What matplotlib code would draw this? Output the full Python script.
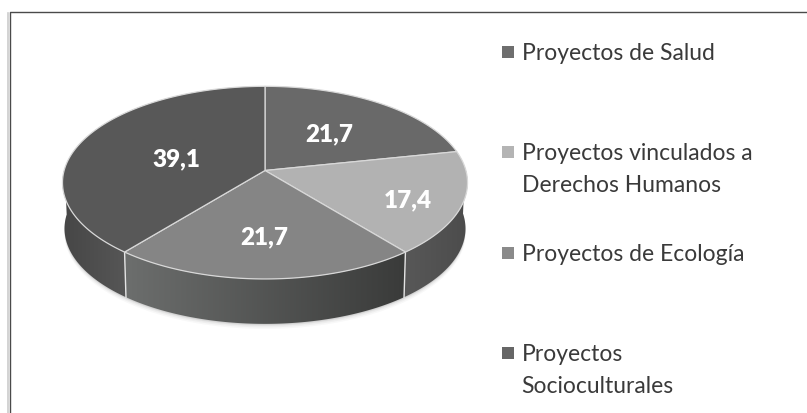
import numpy as np
import matplotlib
matplotlib.use("Agg")
import matplotlib.pyplot as plt
from matplotlib.patches import Polygon

# --- data ---
categories = ["Proyectos de Salud", "Proyectos vinculados a\nDerechos Humanos",
              "Proyectos de Ecología", "Proyectos\nSocioculturales"]
values = [21.7, 17.4, 21.7, 39.1]
value_labels = ["21,7", "17,4", "21,7", "39,1"]

# --- style ---
top_colors = ["#696969", "#b2b2b2", "#858585", "#585858"]
legend_colors = ["#6e6e6e", "#b4b4b4", "#8a8a8a", "#666666"]
side_shades = [("#555555", "#555555"), ("#585858", "#4c4c4c"),
               ("#6c6e6d", "#3a3b3a"), ("#464646", "#565656")]
label_r = [0.62, 0.72, 0.58, 0.52]
label_shift = [(-10, 6), (2, 5), (-1, 6), (8, 4)]
legend_y = [53, 153, 254, 354]

CX, CY = 265.0, 171.5     # apex of the pie
RX, RY = 200.9, 94.8      # radius before perspective
PERSP = 0.126
DEPTH = 46.0

plt.rcParams["font.family"] = ["Lato", "DejaVu Sans"]

fig = plt.figure(figsize=(8.07, 4.14), dpi=100)
ax = fig.add_axes([0, 0, 1, 1])
ax.set_xlim(0, 807)
ax.set_ylim(414, 0)
ax.axis("off")


def project(theta, r=1.0, drop=0.0, shrink=1.0):
    # circle point -> screen point, with a bit of perspective
    u, v = r * np.cos(theta), r * np.sin(theta)
    w = 1 + PERSP * v
    return CX + shrink * RX * u / w, CY - shrink * RY * v / w + drop


def gradient_fill(poly_x, poly_y, left, right, zorder):
    poly = Polygon(np.column_stack([poly_x, poly_y]), closed=True, fc="none", ec="none")
    ax.add_patch(poly)
    c0, c1 = matplotlib.colors.to_rgb(left), matplotlib.colors.to_rgb(right)
    ramp = np.linspace(0, 1, 128)[None, :, None]
    rgb = np.array(c0)[None, None, :] * (1 - ramp) + np.array(c1)[None, None, :] * ramp
    im = ax.imshow(rgb, extent=[min(poly_x), max(poly_x), max(poly_y), min(poly_y)],
                   aspect="auto", zorder=zorder)
    im.set_clip_path(poly)


# angles: clockwise from twelve o'clock
edges = 90 - 360 * np.concatenate([[0], np.cumsum(values)]) / np.sum(values)
edges = np.radians(edges)

# soft shadow under the disc
all_t = np.linspace(0, 2 * np.pi, 360)
for grow, alpha in zip([5, 3.5, 2, 1], [0.05, 0.07, 0.10, 0.14]):
    sx, sy = project(all_t, drop=DEPTH + grow, shrink=0.99)
    ax.fill(sx, sy, color="#777777", alpha=alpha, lw=0, zorder=1)

# side wall, only the part of the rim facing us
for i in range(len(values)):
    t0, t1 = edges[i], edges[i + 1]
    t = np.linspace(t0, t1, 120)
    t = t[np.sin(t) <= 0.04]
    if len(t) < 2:
        continue
    x_top, y_top = project(t)
    x_bot, y_bot = project(t, drop=DEPTH, shrink=0.99)
    px = np.concatenate([x_top, x_bot[::-1]])
    py = np.concatenate([y_top, y_bot[::-1]])
    gradient_fill(px, py, side_shades[i][0], side_shades[i][1], 2)

# white seams on the wall
for i in range(len(values)):
    if np.sin(edges[i + 1]) < 0.04:
        x0, y0 = project(edges[i + 1])
        x1, y1 = project(edges[i + 1], drop=DEPTH, shrink=0.99)
        ax.plot([x0, x1], [y0, y1], color="#e4e4e4", lw=1, zorder=3)

# top face
for i in range(len(values)):
    t = np.linspace(edges[i], edges[i + 1], 120)
    x, y = project(t)
    ax.fill(np.r_[CX, x], np.r_[CY, y], fc=top_colors[i], ec="#d8d8d8", lw=0.9,
            joinstyle="round", zorder=4)

# value labels
for i, lab in enumerate(value_labels):
    mid = (edges[i] + edges[i + 1]) / 2
    lx, ly = project(mid, r=label_r[i])
    ax.text(lx + label_shift[i][0], ly + label_shift[i][1], lab, color="white",
            fontsize=17.5, fontweight="heavy", ha="center", va="center", zorder=5)

# legend
for name, col, y in zip(categories, legend_colors, legend_y):
    ax.scatter([508], [y], marker="s", s=63, color=col, lw=0, zorder=5)
    ax.text(521.5, y - 9.5, name, color="#3a3a3a", fontsize=16.5, ha="left", va="top",
            linespacing=1.6, zorder=5)

# frame of the pasted chart
ax.plot([8.2, 8.2], [14, 414], color="#cccccc", lw=1.2, clip_on=False, zorder=6)
ax.plot([9.5, 9.5, 807], [414, 13, 13], color="#4a4a4a", lw=1.0, clip_on=False, zorder=7)

fig.savefig("out.png", dpi=100)
